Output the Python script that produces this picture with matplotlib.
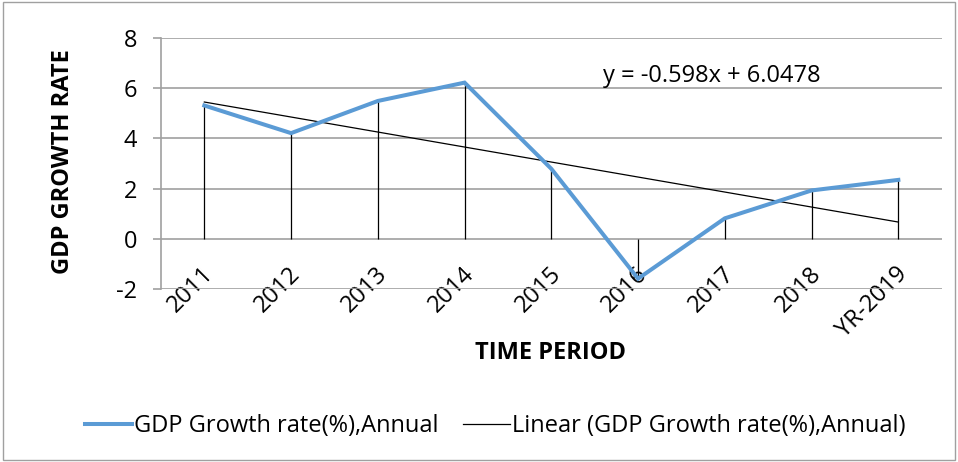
import numpy as np
import matplotlib.pyplot as plt
from matplotlib.patches import Rectangle
from matplotlib.transforms import ScaledTranslation

# data
years = ['2011', '2012', '2013', '2014', '2015', '2016', '2017', '2018', 'YR-2019']
gdp_growth = [5.31, 4.21, 5.49, 6.22, 2.79, -1.58, 0.82, 1.93, 2.35]
trend_text = 'y = -0.598x + 6.0478'

plt.rcParams['font.family'] = ['Open Sans', 'DejaVu Sans']
plt.rcParams['axes.unicode_minus'] = False
fontsize = 17

fig = plt.figure(figsize=(9.58, 4.62), dpi=100)
ax = fig.add_axes([0.168, 0.374, 0.815, 0.544])

x = np.arange(len(years)) + 0.5
vals = np.array(gdp_growth)

# drop lines
ax.vlines(x, 0, vals, colors='black', lw=0.9, zorder=2)

# series
ax.plot(x, vals, '-', color='#5B9BD5', lw=2.9, solid_joinstyle='miter',
        label='GDP Growth rate(%),Annual', zorder=4)

# linear trendline, fitted on the category index 1..n
idx = np.arange(1, len(years) + 1)
coef = np.polyfit(idx, vals, 1)
ax.plot(x, np.polyval(coef, idx), '-', color='black', lw=0.9,
        label='Linear (GDP Growth rate(%),Annual)', zorder=3)

ax.text(6.35, 6.5, trend_text, fontsize=fontsize, ha='center', va='center')

ax.set_xlim(0, len(years))
ax.set_ylim(-2, 8)
ax.set_yticks(np.arange(-2, 9, 2))
ax.set_xticks(x)
ax.set_xticklabels(years, rotation=45, ha='right', va='center', rotation_mode='anchor')
ax.tick_params(axis='x', length=0, pad=0, labelsize=fontsize)
ax.tick_params(axis='y', length=6, color='#a0a0a0', width=1.2, pad=11, labelsize=fontsize)
# labels sit a bit over the bottom line, like the original
shift = ScaledTranslation(6 / 100, 19 / 100, fig.dpi_scale_trans)
for lbl in ax.get_xticklabels():
    lbl.set_transform(lbl.get_transform() + shift)
ax.grid(axis='y', color='#a0a0a0', lw=1.2)
ax.set_axisbelow(True)
for s in ['top', 'right', 'bottom']:
    ax.spines[s].set_visible(False)
ax.spines['left'].set_color('#a0a0a0')
ax.spines['left'].set_linewidth(1.2)

fig.text(0.066, 0.650, 'GDP GROWTH RATE', fontsize=fontsize, fontweight='bold',
         ha='center', va='center', rotation=90)
fig.text(0.575, 0.236, 'TIME PERIOD', fontsize=fontsize, fontweight='bold',
         ha='center', va='center')

fig.legend(loc='center', bbox_to_anchor=(0.517, 0.078), ncol=2, frameon=False,
           fontsize=fontsize, handlelength=2.0, handletextpad=0.1, columnspacing=1.0)

# chart area border
fig.patches.append(Rectangle((0.003, 0.005), 0.994, 0.99, transform=fig.transFigure,
                             fill=False, edgecolor='#a0a0a0', lw=1.0))

fig.savefig('out.png', dpi=100)
